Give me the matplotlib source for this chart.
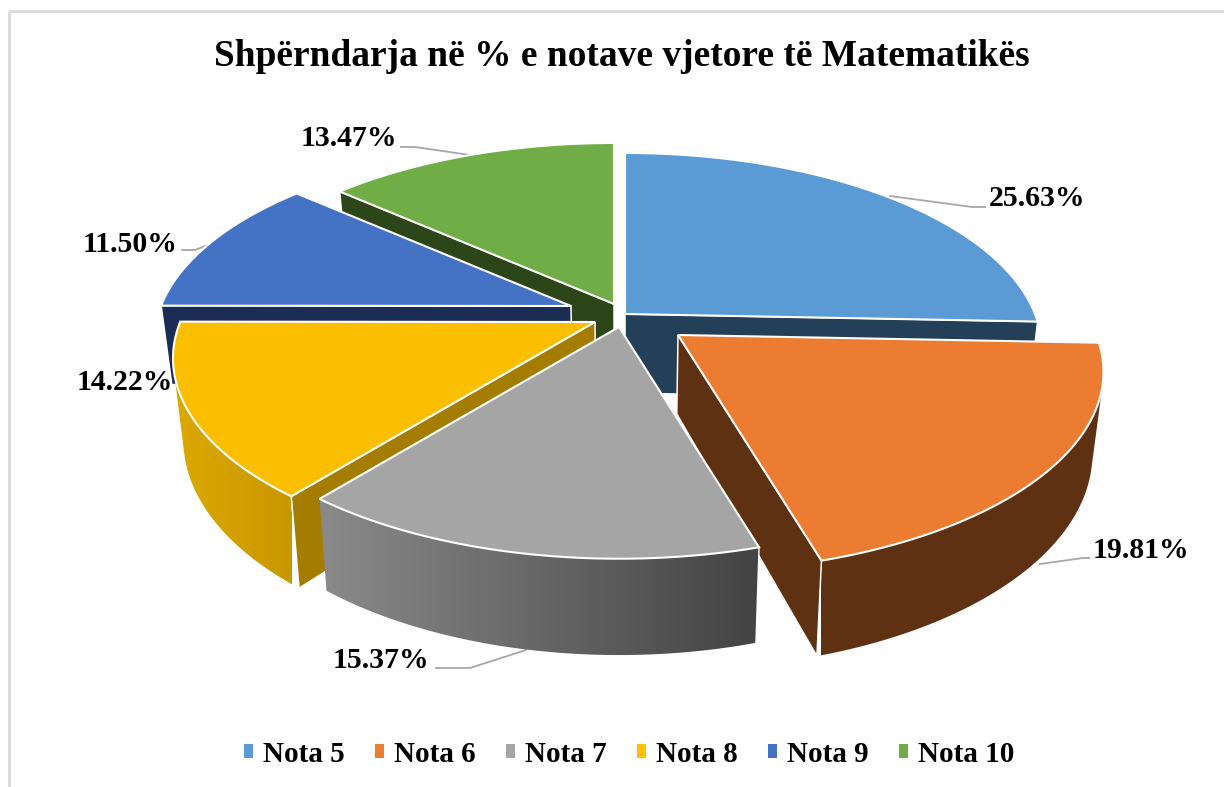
import numpy as np
import matplotlib
matplotlib.use("Agg")
import matplotlib.pyplot as plt
from matplotlib.colors import LinearSegmentedColormap
from matplotlib.patches import Patch, Polygon, Rectangle

plt.rcParams['font.family'] = ['Liberation Serif', 'DejaVu Serif']

# Data
grades = ['Nota 5', 'Nota 6', 'Nota 7', 'Nota 8', 'Nota 9', 'Nota 10']
shares = [25.63, 19.81, 15.37, 14.22, 11.50, 13.47]
title = 'Shpërndarja në % e notave vjetore të Matematikës'

# Colours: legend, top face, cut walls, outer wall left and right
legend_colors = ['#5B9BD5', '#ED7D31', '#A5A5A5', '#FFC000', '#4472C4', '#70AD47']
top_colors = ['#5B9BD5', '#EB7C31', '#A5A5A5', '#FBBE00', '#4472C4', '#70AD47']
cut_colors = ['#234058', '#5F3113', '#5F5F5F', '#A47C00', '#1B2D55', '#2C4519']
outer_left = ['#2C5070', '#5F3113', '#8A8A8A', '#DCA900', '#22386A', '#375621']
outer_right = ['#2C5070', '#5F3113', '#434343', '#C99700', '#22386A', '#375621']

# Layout in pixels of the 1224x787 picture
apex = [(625, 314), (678, 335), (619, 327), (595, 322), (571, 306), (614, 304)]
radius_scale = [1.0, 1.02, 1.0, 1.012, 1.0, 1.0]
draw_order = [5, 0, 4, 1, 3, 2]
label_pos = [(1037, 197), (1141, 550), (381, 659), (125, 382), (130, 243), (349, 138)]
leaders = [
    [(890, 196), (972, 207), (985, 207)],
    [(1040, 564), (1083, 558), (1089, 558)],
    [(526, 650), (470, 668), (436, 668)],
    [],
    [(213, 243), (195, 250), (182, 250)],
    [(470, 155), (415, 147), (401, 147)],
]
RX, RY, PERSP = 410, 190, 0.18
DEPTH, SHRINK, MID_X = 79, 0.977, 625


def top_point(center, angle, scale):
    # angle is clockwise from the back of the pie
    x, y = np.sin(angle) * scale, -np.cos(angle) * scale
    s = 1 / (1 - PERSP * y)
    return center[0] + RX * x * s, center[1] + RY * y * s


def bottom_point(px, py, y_rel):
    s = 1 / (1 - PERSP * y_rel)
    return MID_X + (px - MID_X) * SHRINK, py + DEPTH * s


fig = plt.figure(figsize=(12.24, 7.87), dpi=100)
ax = fig.add_axes([0, 0, 1, 1])
ax.axis('off')

ax.add_patch(Rectangle((9, 11), 1300, 900, fill=False, edgecolor='#D9D9D9', lw=2))

edges = np.radians(np.cumsum([0] + shares) / sum(shares) * 360)

z = 2
for i in draw_order:
    c = apex[i]
    a0, a1 = edges[i], edges[i + 1]
    angles = np.linspace(a0, a1, 200)
    rel_y = -np.cos(angles)
    top = np.array([top_point(c, a, radius_scale[i]) for a in angles])
    bot = np.array([bottom_point(p[0], p[1], ry) for p, ry in zip(top, rel_y)])
    c_bot = bottom_point(c[0], c[1], 0)

    # outer wall, only the part that faces the viewer
    d_top = np.gradient(top, axis=0)
    drop = bot - top
    front = d_top[:, 0] * drop[:, 1] - d_top[:, 1] * drop[:, 0] < 0
    if front.sum() > 1:
        wall = Polygon(np.vstack([top[front], bot[front][::-1]]), closed=True, transform=ax.transData,
                       facecolor='none', edgecolor='none')
        ax.add_patch(wall)
        cmap = LinearSegmentedColormap.from_list('wall', [outer_left[i], outer_right[i]])
        im = ax.imshow(np.linspace(0, 1, 256).reshape(1, -1), cmap=cmap, aspect='auto', interpolation='bilinear',
                       extent=(top[:, 0].min(), top[:, 0].max(), bot[:, 1].max() + 5, top[:, 1].min() - 5), zorder=z)
        im.set_clip_path(wall)
        if rel_y[0] > 0.5:
            ax.plot([top[0, 0], bot[0, 0]], [top[0, 1], bot[0, 1]], color='white', lw=1, zorder=z + 1)
    z += 2

    # cut walls, only those turned to the viewer
    if np.sin(a1) > 0:
        ax.add_patch(Polygon([c, top[-1], bot[-1], c_bot], closed=True, facecolor=cut_colors[i],
                             edgecolor='white', lw=1.1, zorder=z))
    if np.sin(a0) < -1e-6:
        ax.add_patch(Polygon([c, top[0], bot[0], c_bot], closed=True, facecolor=cut_colors[i],
                             edgecolor='white', lw=1.1, zorder=z))
    z += 1

    ax.add_patch(Polygon(np.vstack([c, top]), closed=True, facecolor=top_colors[i],
                         edgecolor='white', lw=1.5, joinstyle='miter', zorder=z))
    z += 1

for line in leaders:
    if line:
        xs, ys = zip(*line)
        ax.plot(xs, ys, color='#A6A6A6', lw=1.3, zorder=1)

for value, (x, y) in zip(shares, label_pos):
    ax.text(x, y + 1, f'{value:.2f}%', ha='center', va='center', fontsize=21.4, fontweight='bold', zorder=z + 1)

ax.text(622, 56, title, ha='center', va='center', fontsize=26.9, fontweight='bold')

handles = [Patch(facecolor=col, edgecolor='none', label=g) for col, g in zip(legend_colors, grades)]
ax.set_xlim(0, 1224)
ax.set_ylim(787, 0)
ax.legend(handles=handles, ncol=6, loc='center', bbox_to_anchor=(629, 754), bbox_transform=ax.transData,
          frameon=False, handlelength=0.32, handleheight=0.32, handletextpad=0.33, columnspacing=1.04,
          prop={'size': 21, 'weight': 'bold'})

fig.savefig('out.png', dpi=100)
